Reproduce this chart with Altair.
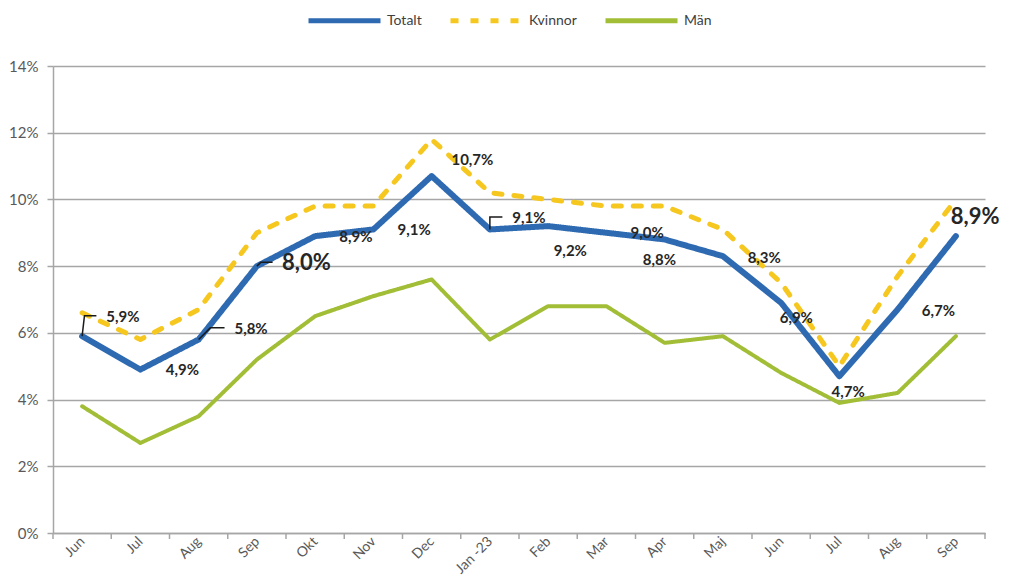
import json
import altair as alt
import pandas as pd

# ---------------- data ----------------
months = ["Jun", "Jul", "Aug", "Sep", "Okt", "Nov", "Dec", "Jan -23",
          "Feb", "Mar", "Apr", "Maj", "Jun", "Jul", "Aug", "Sep"]
series_names = ["Totalt", "Kvinnor", "Män"]
totalt = [5.9, 4.9, 5.8, 8.0, 8.9, 9.1, 10.7, 9.1, 9.2, 9.0, 8.8, 8.3, 6.9, 4.7, 6.7, 8.9]
kvinnor = [6.6, 5.8, 6.7, 9.0, 9.8, 9.8, 11.8, 10.2, 10.0, 9.8, 9.8, 9.1, 7.5, 5.0, 7.7, 10.0]
man = [3.8, 2.7, 3.5, 5.2, 6.5, 7.1, 7.6, 5.8, 6.8, 6.8, 5.7, 5.9, 4.8, 3.9, 4.2, 5.9]
y_ticks = [0, 2, 4, 6, 8, 10, 12, 14]

# data-label anchor positions (month index, percent) as placed in the original
label_x = [0.70, 1.72, 2.90, 3.85, 4.70, 5.70, 6.70, 7.67, 8.38, 9.70, 9.91, 11.71, 12.26, 13.15, 14.70, 15.33]
label_y = [6.48, 4.89, 6.12, 8.09, 8.87, 9.08, 11.18, 9.44, 8.45, 8.99, 8.18, 8.24, 6.45, 4.23, 6.66, 9.47]
big_labels = [3, 15]
leader_idx = [0, 2, 3, 7]
leader_corner = [0.04, 0.20, 0.07, 0.0]

# ---------------- style ----------------
W, H = 932, 467
FONT = "Lato"
colors = ["#2E6AB1", "#F5C71F", "#A2BE37"]
widths = [6, 5, 4]
dashes = [[1, 0], [8, 12], [1, 0]]
GRID = "#A6A6A6"
TXT = "#595959"

rows = []
for name, vals in zip(series_names, [totalt, kvinnor, man]):
    for i, v in enumerate(vals):
        rows.append({"i": i, "series": name, "value": v})
df = pd.DataFrame(rows)

lab_rows = []
for i, v in enumerate(totalt):
    lab_rows.append({"i": label_x[i], "value": label_y[i],
                     "text": f"{v:.1f}".replace(".", ",") + "%",
                     "big": i in big_labels})
df_lab = pd.DataFrame(lab_rows)

lead_rows = []
for k, (idx, c) in enumerate(zip(leader_idx, leader_corner)):
    half = 0.58 if idx in big_labels else 0.455
    pts = [(idx, totalt[idx]), (idx + c, label_y[idx] + 0.03), (label_x[idx] - half, label_y[idx] + 0.03)]
    for o, (px, py) in enumerate(pts):
        lead_rows.append({"k": k, "o": o, "i": px, "value": py})
df_lead = pd.DataFrame(lead_rows)

df_bound = pd.DataFrame({"i": [b - 0.5 for b in range(len(months) + 1)]})

label_expr = json.dumps(months).replace('"', "'") + "[datum.value]"

x_enc = alt.X("i:Q",
              scale=alt.Scale(domain=[-0.5, len(months) - 0.5], nice=False, zero=False),
              axis=alt.Axis(values=list(range(len(months))), labelExpr=label_expr,
                            ticks=False, grid=False, domainColor=GRID, domainWidth=1.5,
                            labelAngle=-45, labelAlign="right", labelBaseline="middle",
                            labelFont=FONT, labelFontSize=14, labelColor=TXT,
                            labelPadding=6, labelOverlap=False, title=None))
y_enc = alt.Y("value:Q",
              scale=alt.Scale(domain=[0, 14], nice=False),
              axis=alt.Axis(values=y_ticks, labelExpr="datum.value + '%'",
                            grid=True, gridColor=GRID, gridWidth=1.5,
                            tickSize=6, tickColor=GRID, tickWidth=1.5,
                            domainColor=GRID, domainWidth=1.5,
                            labelFont=FONT, labelFontSize=15, labelColor=TXT,
                            labelPadding=9, title=None))

color_enc = alt.Color("series:N", scale=alt.Scale(domain=series_names, range=colors),
                      legend=alt.Legend(title=None))
dash_enc = alt.StrokeDash("series:N", scale=alt.Scale(domain=series_names, range=dashes),
                          legend=alt.Legend(title=None))

layers = []
for name, w in zip(series_names, widths):
    layers.append(
        alt.Chart(df).transform_filter(alt.datum.series == name)
        .mark_line(strokeWidth=w, strokeCap="round", strokeJoin="round")
        .encode(x=x_enc, y=y_enc, color=color_enc, strokeDash=dash_enc)
    )

ticks = alt.Chart(df_bound).mark_rule(color=GRID, strokeWidth=1.5).encode(
    x="i:Q", y=alt.value(H), y2=alt.value(H + 6))

leaders = alt.Chart(df_lead).mark_line(color="#1A1A1A", strokeWidth=1.5).encode(
    x="i:Q", y="value:Q", detail="k:N", order="o:Q")

labels_small = alt.Chart(df_lab).transform_filter("!datum.big").mark_text(
    font=FONT, fontSize=15, fontWeight="bold", color="#262626",
    align="center", baseline="middle").encode(x="i:Q", y="value:Q", text="text:N")
labels_big = alt.Chart(df_lab).transform_filter("datum.big").mark_text(
    font=FONT, fontSize=22, fontWeight="bold", color="#262626",
    align="center", baseline="middle").encode(x="i:Q", y="value:Q", text="text:N")

chart = alt.layer(ticks, *layers, leaders, labels_small, labels_big).properties(
    width=W, height=H,
    autosize=alt.AutoSizeParams(type="none"),
    padding={"left": 45, "top": 58, "right": 16, "bottom": 45},
).configure_view(stroke=None).configure_legend(
    orient="none", legendX=253, legendY=-84, direction="horizontal",
    symbolType="stroke", symbolSize=5184, symbolStrokeWidth=5,
    labelFont=FONT, labelFontSize=14, labelColor="#404040",
    columnPadding=18, labelOffset=4, padding=0,
)

chart.save("out.html", embed_options={"renderer": "svg", "actions": False})
